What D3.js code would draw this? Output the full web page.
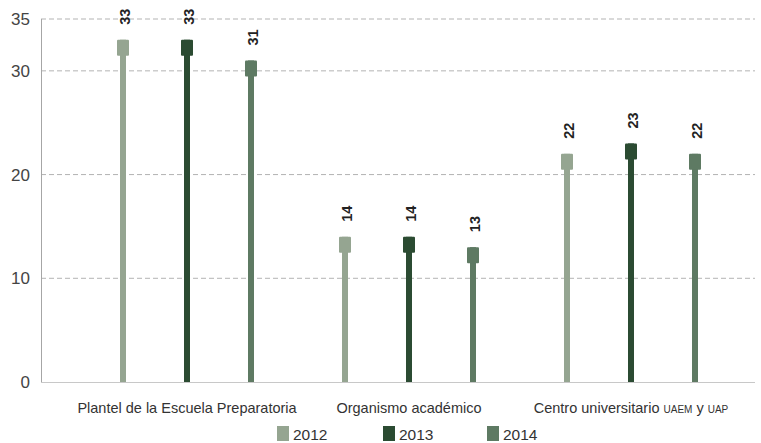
<!DOCTYPE html>
<html><head><meta charset="utf-8">
<script src="https://cdn.jsdelivr.net/npm/d3@7"></script>
<style>body{margin:0;background:#fff}svg{display:block}</style>
</head><body>
<svg id="c" width="761" height="443"></svg>
<script>
const categories = ["Plantel de la Escuela Preparatoria", "Organismo académico", "Centro universitario UAEM y UAP"];
const years = ["2012", "2013", "2014"];
const values2012 = [33, 14, 22];
const values2013 = [33, 14, 23];
const values2014 = [31, 13, 22];
const yTicks = [0, 10, 20, 30, 35];
const colors = ["#95a591", "#2b4b32", "#5e7a63"];

const series = [values2012, values2013, values2014];
const svg = d3.select("#c");
const font = "'Liberation Sans', Arial, sans-serif";
const y = d3.scaleLinear().domain([0, 35]).range([382, 19]);
const x0 = d3.scaleBand().domain(categories).range([76, 742]);
const x1 = d3.scalePoint().domain(years).range([-64, 64]);

// gridlines
svg.append("g").selectAll("line").data(yTicks.filter(d => d > 0)).join("line")
  .attr("x1", 41).attr("x2", 755).attr("y1", d => y(d)).attr("y2", d => y(d))
  .attr("stroke", "#b3b3b3").attr("stroke-dasharray", "5,3").attr("stroke-width", 1);

// axes lines
svg.append("line").attr("x1", 41.5).attr("x2", 41.5).attr("y1", y(35)).attr("y2", y(0))
  .attr("stroke", "#a6a6a6").attr("stroke-width", 1);
svg.append("line").attr("x1", 41).attr("x2", 755).attr("y1", y(0) + 0.5).attr("y2", y(0) + 0.5)
  .attr("stroke", "#c8c8c8").attr("stroke-width", 1);

// y tick labels
svg.append("g").selectAll("text").data(yTicks).join("text")
  .attr("x", 30).attr("y", d => y(d)).attr("dy", "0.36em").attr("text-anchor", "end")
  .attr("font-family", font).attr("font-size", 17).attr("fill", "#444")
  .text(d => d);

// bars
categories.forEach((cat, ci) => {
  years.forEach((yr, si) => {
    const v = series[si][ci];
    const cx = x0(cat) + x0.bandwidth() / 2 + x1(yr);
    svg.append("rect").attr("x", cx - 3).attr("width", 6)
      .attr("y", y(v)).attr("height", y(0) - y(v)).attr("fill", colors[si]);
    svg.append("rect").attr("x", cx - 6).attr("width", 12)
      .attr("y", y(v)).attr("height", 16).attr("rx", 1).attr("fill", colors[si]);
    svg.append("text").attr("transform", `translate(${cx + 6.5},${y(v) - 15}) rotate(-90)`)
      .attr("font-family", font).attr("font-weight", "bold").attr("font-size", 14.5)
      .attr("fill", "#222").text(v);
  });
});

// category labels
categories.forEach((cat, ci) => {
  const t = svg.append("text").attr("x", x0(cat) + x0.bandwidth() / 2).attr("y", 413)
    .attr("text-anchor", "middle").attr("font-family", font).attr("font-size", 14.5).attr("fill", "#333");
  if (cat.includes("UAEM")) {
    t.append("tspan").text("Centro universitario ");
    t.append("tspan").attr("font-size", 10).text("UAEM");
    t.append("tspan").text(" y ");
    t.append("tspan").attr("font-size", 10).text("UAP");
  } else {
    t.text(cat);
  }
});

// legend
const legX = [277, 383, 487];
years.forEach((yr, i) => {
  svg.append("rect").attr("x", legX[i]).attr("y", 426).attr("width", 12).attr("height", 15).attr("fill", colors[i]);
  svg.append("text").attr("x", legX[i] + 16).attr("y", 440).attr("font-family", font)
    .attr("font-size", 15.5).attr("fill", "#333").text(yr);
});
</script>
</body></html>
